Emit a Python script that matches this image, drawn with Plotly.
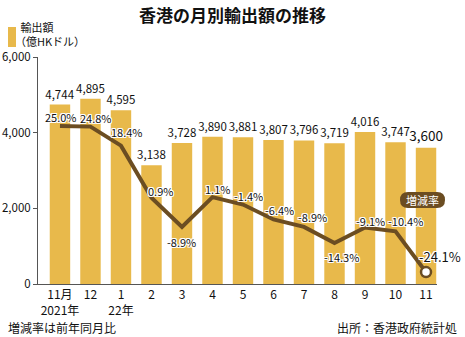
import plotly.graph_objects as go

# ---- data ----
months = ["11月<br>2021年", "12", "1<br>22年", "2", "3", "4", "5", "6", "7", "8", "9", "10", "11"]
exports = [4744, 4895, 4595, 3138, 3728, 3890, 3881, 3807, 3796, 3719, 4016, 3747, 3600]
growth = [25.0, 24.8, 18.4, 0.9, -8.9, 1.1, -1.4, -6.4, -8.9, -14.3, -9.1, -10.4, -24.1]
y_ticks = [0, 2000, 4000, 6000]

# ---- styles ----
BAR = "#E8B94B"
LINE = "#6B4D22"
FONT = "Noto Sans CJK JP"
W, H = 465, 337
L, R, T, B = 38, 437, 57, 284
xs = list(range(len(months)))
label_dx = [1, 6, 6, 9, 0, 5, 6, 6, 8, 7, 5, 10, 14]
label_dy = [9, 9, 14, 7, -15, 8, 9, 9, 10, -14, 6, 10, 16]
bar_font_sizes = [11.5] * (len(exports) - 1) + [13.5]


def px(x):
    return (x - L) / (R - L)


def py(y):
    return (B - y) / (B - T)


fig = go.Figure()
fig.add_trace(go.Bar(
    x=xs, y=exports, marker_color=BAR, marker_line_width=0,
    text=[f"{v:,}" for v in exports], textposition="outside", constraintext="none",
    textfont=dict(size=bar_font_sizes, color="#111", family=FONT),
    cliponaxis=False, showlegend=False, hoverinfo="skip",
))
fig.add_trace(go.Scatter(
    x=xs, y=growth, yaxis="y2", mode="lines",
    line=dict(color=LINE, width=4), showlegend=False, hoverinfo="skip",
))
fig.add_trace(go.Scatter(
    x=[xs[-1]], y=[growth[-1]], yaxis="y2", mode="markers",
    marker=dict(size=10, color="white", line=dict(color=LINE, width=2.5)),
    showlegend=False, hoverinfo="skip", cliponaxis=False,
))

halo = ("1px 1px 0 #fff, -1px -1px 0 #fff, 1px -1px 0 #fff, -1px 1px 0 #fff, "
        "0 1px 0 #fff, 0 -1px 0 #fff, 1px 0 0 #fff, -1px 0 0 #fff")
annotations = []
for i, g in enumerate(growth):
    annotations.append(dict(
        x=i, y=g, xref="x", yref="y2", text=f"{g:.1f}%", showarrow=False,
        xshift=label_dx[i], yshift=label_dy[i],
        font=dict(size=13 if i == len(growth) - 1 else 11, color="#111", family=FONT, shadow=halo),
    ))

annotations += [
    dict(x=px(W / 2), y=py(14), xref="paper", yref="paper", yanchor="middle", xanchor="center",
         text="<b>香港の月別輸出額の推移</b>", showarrow=False,
         font=dict(size=17, color="#111", family=FONT)),
    dict(x=px(14), y=py(50), xref="paper", yref="paper", xanchor="left", yanchor="bottom",
         align="left", text="\u2002輸出額<br>（億HKドル）", showarrow=False, borderpad=0,
         font=dict(size=11, color="#111", family=FONT)),
    dict(x=px(6), y=py(327), xref="paper", yref="paper", xanchor="left", yanchor="middle",
         text="増減率は前年同月比", showarrow=False, font=dict(size=12, color="#111", family=FONT)),
    dict(x=px(459), y=py(327), xref="paper", yref="paper", xanchor="right", yanchor="middle",
         text="出所：香港政府統計処", showarrow=False, font=dict(size=12, color="#111", family=FONT)),
    dict(x=px(422.5), y=py(200), xref="paper", yref="paper", text="増減率", xanchor="center",
         yanchor="middle", showarrow=False, font=dict(size=11, color="white", family=FONT)),
]

x0, x1, y0, y1, rad = 400, 445, 192, 208, 8
pill = (f"M {px(x0 + rad)} {py(y0)} L {px(x1 - rad)} {py(y0)} "
        f"Q {px(x1)} {py(y0)} {px(x1)} {py(y0 + rad)} "
        f"Q {px(x1)} {py(y1)} {px(x1 - rad)} {py(y1)} "
        f"L {px(x0 + rad)} {py(y1)} "
        f"Q {px(x0)} {py(y1)} {px(x0)} {py(y0 + rad)} "
        f"Q {px(x0)} {py(y0)} {px(x0 + rad)} {py(y0)} Z")

shapes = [
    dict(type="path", path=pill, xref="paper", yref="paper", fillcolor=LINE, line_width=0, layer="above"),
    dict(type="rect", xref="paper", yref="paper", x0=px(8), x1=px(16),
         y0=py(47), y1=py(27), fillcolor=BAR, line_width=0),
]

fig.update_layout(
    width=W, height=H,
    margin=dict(l=L, r=W - R, t=T, b=H - B, autoexpand=False),
    paper_bgcolor="white", plot_bgcolor="white",
    font=dict(family=FONT, color="#111", size=12),
    bargap=0.33,
    xaxis=dict(range=[-0.72, 12.36], tickvals=xs, ticktext=months, showgrid=False,
               showline=True, linecolor="#555", linewidth=1, ticks="", zeroline=False,
               tickfont=dict(size=12), automargin=False),
    yaxis=dict(range=[0, 6000], tickvals=y_ticks, tickformat=",", showgrid=False,
               showline=True, linecolor="#555", linewidth=1, ticks="outside", ticklen=4,
               tickcolor="#555", zeroline=False, tickfont=dict(size=11.5),
               automargin=False),
    yaxis2=dict(range=[-28.1, 48.2], overlaying="y", visible=False),
    annotations=annotations,
    shapes=shapes,
)

fig.write_html("out.html")
